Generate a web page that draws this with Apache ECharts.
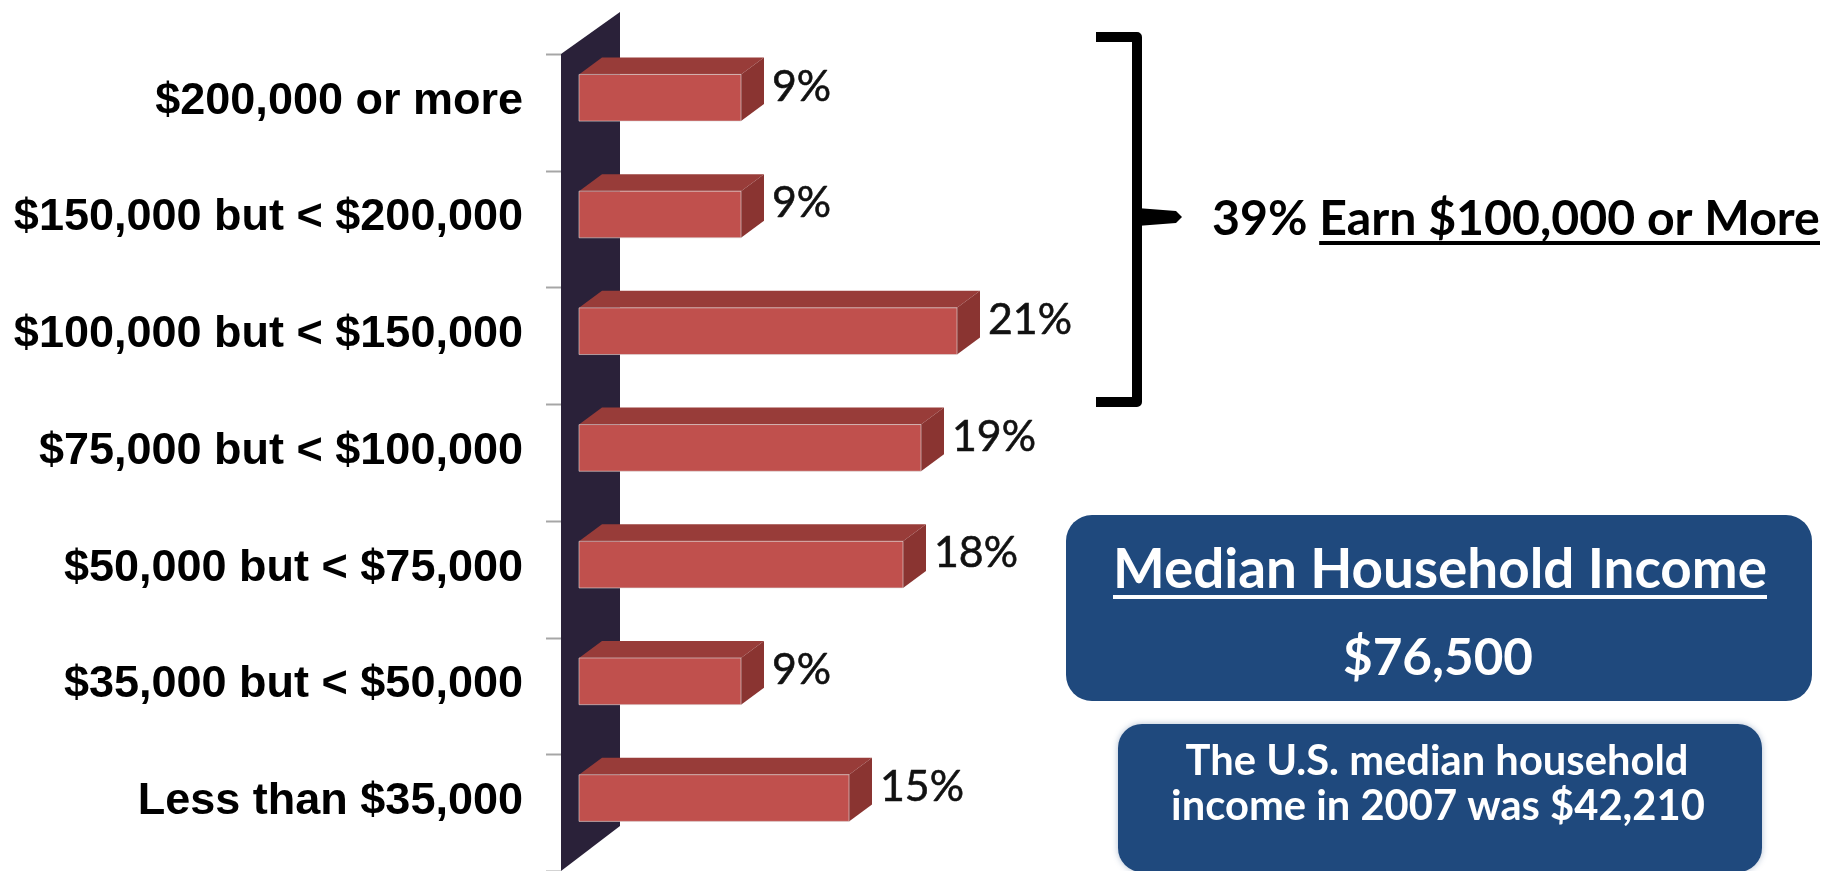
<!DOCTYPE html>
<html style="height: 100%;">
<head>
    <meta charset="utf-8">
    <title>Household Income Distribution</title>
    <script src="https://cdn.jsdelivr.net/npm/echarts@6.0.0/dist/echarts.min.js"></script>
    <style>
        html,
        body {
            height: 100%;
            margin: 0;
            padding: 0;
            background-color: #fff;
        }

        #main {
            width: 1831px;
            height: 871px;
        }
    </style>
</head>
<body>
    <div id="main"></div>
    <script type="text/javascript">
        // income brackets, listed top to bottom as in the picture
        var categories = [
            '$200,000 or more',
            '$150,000 but < $200,000',
            '$100,000 but < $150,000',
            '$75,000 but < $100,000',
            '$50,000 but < $75,000',
            '$35,000 but < $50,000',
            'Less than $35,000'
        ];
        // share of households, %
        var shares = [9, 9, 21, 19, 18, 9, 15];

        var bracketText = '39% ';
        var bracketTextUnderlined = 'Earn $100,000 or More';
        var medianTitle = 'Median Household Income';
        var medianValue = '$76,500';
        var usNoteLines = ['The U.S. median household', 'income in 2007 was $42,210'];

        var FRONT = '#c0504d';
        var TOP = '#983c39';
        var SIDE = '#8a3431';
        var WALL = '#2a2139';
        var NAVY = '#1f497d';

        // font size that makes a text fill a given width
        var measureCtx = document.createElement('canvas').getContext('2d');
        function fitSize(text, weight, family, width) {
            measureCtx.font = weight + ' 100px ' + family;
            return 100 * width / measureCtx.measureText(text).width;
        }
        function textWidth(text, weight, size, family) {
            measureCtx.font = weight + ' ' + size + 'px ' + family;
            return measureCtx.measureText(text).width;
        }

        var labelSize = fitSize('21%', 'normal', 'Lato', 84);

        var myChart = echarts.init(document.getElementById('main'));

        // the dark 3D wall behind the bars, with the category ticks left of it
        function renderWall(params, api) {
            var cs = params.coordSys;
            var bandH = api.size([0, 1])[1];
            var children = [{
                type: 'polygon',
                shape: {
                    points: [
                        [cs.x - 18, cs.y],
                        [cs.x + 41, cs.y - 42],
                        [cs.x + 41, cs.y + cs.height - 45],
                        [cs.x - 18, cs.y + cs.height]
                    ]
                },
                style: { fill: WALL }
            }];
            for (var k = 0; k <= categories.length; k++) {
                var ty = Math.round(cs.y + k * bandH) + 0.5;
                children.push({
                    type: 'line',
                    shape: { x1: cs.x - 33, y1: ty, x2: cs.x - 18, y2: ty },
                    style: { stroke: '#a6a6a6', lineWidth: 2 }
                });
            }
            return { type: 'group', children: children };
        }

        // 3D bar: front face, top face, side face and value label
        function renderBar(params, api) {
            var v = api.value(0);
            var idx = api.value(1);
            var base = api.coord([0, idx]);
            var end = api.coord([v, idx]);
            var bandH = api.size([0, 1])[1];
            var faceH = bandH * 0.4;
            var faceTop = base[1] - bandH * 0.125 - faceH / 2;
            var x0 = base[0];
            var x1 = end[0];
            var dx = 23;
            var dy = 17;
            return {
                type: 'group',
                children: [
                    {
                        type: 'polygon',
                        shape: { points: [[x0, faceTop], [x1, faceTop], [x1 + dx, faceTop - dy], [x0 + dx, faceTop - dy]] },
                        style: { fill: TOP }
                    },
                    {
                        type: 'polygon',
                        shape: { points: [[x1, faceTop], [x1 + dx, faceTop - dy], [x1 + dx, faceTop + faceH - dy], [x1, faceTop + faceH]] },
                        style: { fill: SIDE }
                    },
                    {
                        type: 'rect',
                        shape: { x: x0, y: faceTop, width: x1 - x0, height: faceH },
                        style: { fill: FRONT, stroke: 'rgba(220,220,220,0.6)', lineWidth: 1 }
                    },
                    {
                        type: 'text',
                        style: {
                            text: v + '%',
                            x: x1 + dx + 8,
                            y: faceTop + faceH / 2 - 11,
                            verticalAlign: 'middle',
                            fontFamily: 'Lato',
                            fontSize: labelSize,
                            fill: '#111',
                            stroke: '#111',
                            lineWidth: 0.6
                        }
                    }
                ]
            };
        }

        // right-hand annotations
        var bracketFont = fitSize(bracketText + bracketTextUnderlined, 'bold', 'Lato', 608);
        var underlineStart = 1212 + textWidth(bracketText, 'bold', bracketFont, 'Lato');
        var titleFont = fitSize(medianTitle, 'bold', 'Lato', 654);
        var valueFont = fitSize(medianValue, 'bold', 'Lato', 190);
        var noteFont = fitSize(usNoteLines[1], 'bold', 'Lato', 534);

        var graphics = [
            {
                type: 'polyline',
                shape: { points: [[1096, 37], [1137, 37], [1137, 402], [1096, 402]] },
                style: { stroke: '#000', lineWidth: 10, fill: null, lineJoin: 'round' }
            },
            {
                type: 'polygon',
                shape: { points: [[1137, 208], [1176, 211], [1182, 217], [1176, 223], [1137, 226]] },
                style: { fill: '#000' }
            },
            {
                type: 'text',
                style: {
                    text: bracketText + bracketTextUnderlined,
                    x: 1212, y: 219, verticalAlign: 'middle',
                    fontFamily: 'Lato', fontWeight: 'bold', fontSize: bracketFont, fill: '#000'
                }
            },
            {
                type: 'rect',
                shape: { x: underlineStart, y: 241, width: 1820 - underlineStart, height: 4 },
                style: { fill: '#000' }
            },
            {
                type: 'rect',
                shape: { x: 1066, y: 515, width: 746, height: 186, r: 26 },
                style: { fill: NAVY }
            },
            {
                type: 'text',
                style: {
                    text: medianTitle, x: 1440, y: 570, align: 'center', verticalAlign: 'middle',
                    fontFamily: 'Lato', fontWeight: 'bold', fontSize: titleFont, fill: '#fff'
                }
            },
            {
                type: 'rect',
                shape: { x: 1113, y: 595, width: 654, height: 4 },
                style: { fill: '#fff' }
            },
            {
                type: 'text',
                style: {
                    text: medianValue, x: 1438, y: 658, align: 'center', verticalAlign: 'middle',
                    fontFamily: 'Lato', fontWeight: 'bold', fontSize: valueFont, fill: '#fff'
                }
            },
            {
                type: 'rect',
                shape: { x: 1118, y: 724, width: 644, height: 148, r: 24 },
                style: { fill: NAVY, shadowBlur: 6, shadowColor: 'rgba(31,73,125,0.35)' }
            },
            {
                type: 'text',
                style: {
                    text: usNoteLines[0], x: 1437, y: 762, align: 'center', verticalAlign: 'middle',
                    fontFamily: 'Lato', fontWeight: 'bold', fontSize: noteFont, fill: '#fff'
                }
            },
            {
                type: 'text',
                style: {
                    text: usNoteLines[1], x: 1438, y: 807, align: 'center', verticalAlign: 'middle',
                    fontFamily: 'Lato', fontWeight: 'bold', fontSize: noteFont, fill: '#fff'
                }
            }
        ];

        var option = {
            animation: false,
            backgroundColor: '#fff',
            grid: { left: 579, top: 54, width: 540, height: 821 },
            xAxis: { type: 'value', min: 0, max: 30, show: false },
            yAxis: {
                type: 'category',
                data: categories,
                inverse: true,
                offset: 18,
                axisLine: { show: false },
                axisTick: { show: false },
                axisLabel: {
                    interval: 0,
                    margin: 38,
                    verticalAlign: 'bottom',
                    lineHeight: 22,
                    fontFamily: 'Liberation Sans',
                    fontWeight: 'bold',
                    fontSize: 45,
                    color: '#000'
                },
                splitLine: { show: false }
            },
            series: [
                {
                    type: 'custom',
                    z: 1,
                    clip: false,
                    renderItem: renderWall,
                    encode: { x: 0, y: 1 },
                    data: [[0, 0]]
                },
                {
                    type: 'custom',
                    z: 2,
                    clip: false,
                    renderItem: renderBar,
                    encode: { x: 0, y: 1 },
                    data: shares.map(function (v, i) { return [v, i]; })
                }
            ],
            graphic: graphics
        };

        myChart.setOption(option);
    </script>
</body>
</html>
